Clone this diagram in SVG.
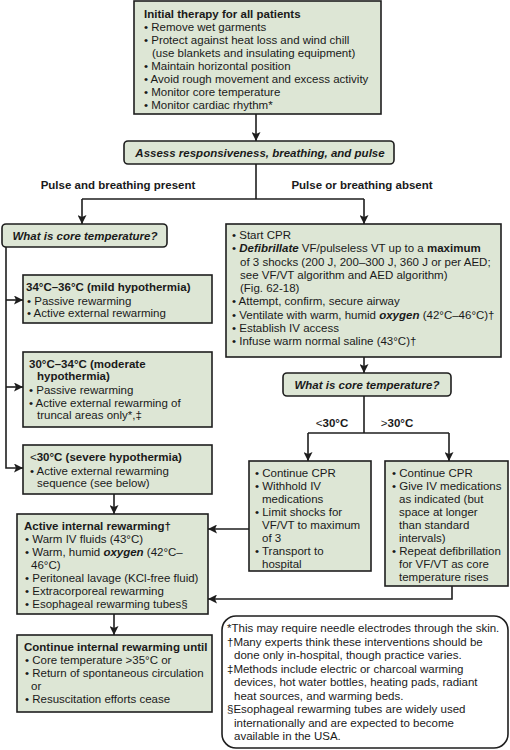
<svg xmlns="http://www.w3.org/2000/svg" width="510" height="750" viewBox="0 0 510 750">
<style>
.box{fill:#dde6d5;stroke:#1e1e1e;stroke-width:1.6}
.note{fill:#ffffff;stroke:#1e1e1e;stroke-width:1.6}
.t{font-family:"Liberation Sans",Arial,sans-serif;font-size:11.5px;fill:#1a1a1a}
.b{font-weight:bold}
.bi{font-weight:bold;font-style:italic}
.n{font-weight:normal}
.c{text-anchor:middle}
.conn{stroke:#1e1e1e;stroke-width:1.6;fill:none}
.arr{marker-end:url(#ah)}
</style>
<defs>
<marker id="ah" markerUnits="userSpaceOnUse" markerWidth="10" markerHeight="9" refX="9" refY="4.5" orient="auto">
<path d="M0,0 L9,4.5 L0,9 L2,4.5 z" fill="#1e1e1e"/>
</marker>
</defs>

<g id="connectors">
<path class="conn arr" d="M256,114 V141"/>
<path class="conn" d="M256,164 V199"/>
<path class="conn" d="M82,199 H364"/>
<path class="conn arr" d="M82,199 V224"/>
<path class="conn arr" d="M364,199 V224"/>
<path class="conn arr" d="M6,247 V468 H23"/>
<path class="conn arr" d="M6,300 H23"/>
<path class="conn arr" d="M6,387 H23"/>
<path class="conn arr" d="M114,494 V514"/>
<path class="conn arr" d="M114,614 V635"/>
<path class="conn arr" d="M364,357 V373"/>
<path class="conn" d="M364,396 V433"/>
<path class="conn" d="M308,433 H449"/>
<path class="conn arr" d="M308,433 V461"/>
<path class="conn arr" d="M449,433 V461"/>
<path class="conn arr" d="M249,529 H208"/>
<path class="conn arr" d="M452,586 V599 H208"/>
<text class="t b c" x="332" y="427"><tspan class="n">&lt;</tspan>30°C</text>
<text class="t b c" x="397" y="427"><tspan class="n">&gt;</tspan>30°C</text>
<text class="t b c" x="118" y="189">Pulse and breathing present</text>
<text class="t b c" x="362" y="189">Pulse or breathing absent</text>
</g>

<g id="initial">
<rect class="box" x="134" y="1" width="247" height="113"/>
<text class="t b" x="144" y="17.5">Initial therapy for all patients</text>
<text class="t" x="144" y="30.5">• Remove wet garments</text>
<text class="t" x="144" y="43.5">• Protect against heat loss and wind chill</text>
<text class="t" x="152" y="56.5">(use blankets and insulating equipment)</text>
<text class="t" x="144" y="69.5">• Maintain horizontal position</text>
<text class="t" x="144" y="82.5">• Avoid rough movement and excess activity</text>
<text class="t" x="144" y="95.5">• Monitor core temperature</text>
<text class="t" x="144" y="108.5">• Monitor cardiac rhythm*</text>
</g>

<g id="assess">
<rect class="box" x="124" y="141" width="270" height="23" rx="4"/>
<text class="t bi c" x="260" y="156.5">Assess responsiveness, breathing, and pulse</text>
</g>

<g id="core-left">
<rect class="box" x="2" y="224" width="165" height="23" rx="4"/>
<text class="t bi c" x="85" y="240">What is core temperature?</text>
</g>

<g id="mild">
<rect class="box" x="23" y="275" width="189" height="48"/>
<text class="t b" x="26" y="291">34°C–36°C (mild hypothermia)</text>
<text class="t" x="27" y="305">• Passive rewarming</text>
<text class="t" x="27" y="317">• Active external rewarming</text>
</g>

<g id="moderate">
<rect class="box" x="23" y="352" width="189" height="75"/>
<text class="t b" x="29" y="368">30°C–34°C (moderate</text>
<text class="t b" x="37" y="380">hypothermia)</text>
<text class="t" x="29" y="394">• Passive rewarming</text>
<text class="t" x="29" y="407">• Active external rewarming of</text>
<text class="t" x="37" y="419">truncal areas only*,‡</text>
</g>

<g id="severe">
<rect class="box" x="23" y="445" width="189" height="49"/>
<text class="t b" x="30" y="461"><tspan class="n">&lt;</tspan>30°C (severe hypothermia)</text>
<text class="t" x="30" y="475">• Active external rewarming</text>
<text class="t" x="37" y="487">sequence (see below)</text>
</g>

<g id="active-internal">
<rect class="box" x="17" y="514" width="191" height="100"/>
<text class="t b" x="24" y="530">Active internal rewarming†</text>
<text class="t" x="25" y="543">• Warm IV fluids (43°C)</text>
<text class="t" x="25" y="556">• Warm, humid <tspan class="bi">oxygen</tspan> (42°C–</text>
<text class="t" x="31" y="569">46°C)</text>
<text class="t" x="25" y="582">• Peritoneal lavage (KCl-free fluid)</text>
<text class="t" x="25" y="595">• Extracorporeal rewarming</text>
<text class="t" x="25" y="608">• Esophageal rewarming tubes§</text>
</g>

<g id="continue">
<rect class="box" x="17" y="635" width="195" height="77"/>
<text class="t b" x="24" y="651">Continue internal rewarming until</text>
<text class="t" x="25" y="664">• Core temperature &gt;35°C or</text>
<text class="t" x="25" y="677">• Return of spontaneous circulation</text>
<text class="t" x="31" y="690">or</text>
<text class="t" x="25" y="703">• Resuscitation efforts cease</text>
</g>

<g id="cpr">
<rect class="box" x="226" y="224" width="275" height="133"/>
<text class="t" x="232" y="239">• Start CPR</text>
<text class="t" x="232" y="252.3">• <tspan class="bi">Defibrillate</tspan> VF/pulseless VT up to a <tspan class="b">maximum</tspan></text>
<text class="t" x="240" y="265.5">of 3 shocks (200 J, 200–300 J, 360 J or per AED;</text>
<text class="t" x="240" y="278.8">see VF/VT algorithm and AED algorithm)</text>
<text class="t" x="240" y="292">(Fig. 62-18)</text>
<text class="t" x="232" y="305.3">• Attempt, confirm, secure airway</text>
<text class="t" x="232" y="318.5">• Ventilate with warm, humid <tspan class="bi">oxygen</tspan> (42°C–46°C)†</text>
<text class="t" x="232" y="331.8">• Establish IV access</text>
<text class="t" x="232" y="345">• Infuse warm normal saline (43°C)†</text>
</g>

<g id="core-right">
<rect class="box" x="283" y="373" width="168" height="23" rx="4"/>
<text class="t bi c" x="367" y="389">What is core temperature?</text>
</g>

<g id="below30">
<rect class="box" x="249" y="461" width="122" height="110"/>
<text class="t" x="255" y="477">• Continue CPR</text>
<text class="t" x="255" y="490">• Withhold IV</text>
<text class="t" x="262" y="503">medications</text>
<text class="t" x="255" y="516">• Limit shocks for</text>
<text class="t" x="262" y="529">VF/VT to maximum</text>
<text class="t" x="262" y="542">of 3</text>
<text class="t" x="255" y="555">• Transport to</text>
<text class="t" x="262" y="568">hospital</text>
</g>

<g id="above30">
<rect class="box" x="385" y="461" width="123" height="125"/>
<text class="t" x="392" y="477">• Continue CPR</text>
<text class="t" x="392" y="490">• Give IV medications</text>
<text class="t" x="399" y="503">as indicated (but</text>
<text class="t" x="399" y="516">space at longer</text>
<text class="t" x="399" y="529">than standard</text>
<text class="t" x="399" y="542">intervals)</text>
<text class="t" x="392" y="555">• Repeat defibrillation</text>
<text class="t" x="399" y="568">for VF/VT as core</text>
<text class="t" x="399" y="581">temperature rises</text>
</g>

<g id="footnotes">
<rect class="note" x="222" y="616" width="286" height="132" rx="14"/>
<text class="t" x="227" y="632">*This may require needle electrodes through the skin.</text>
<text class="t" x="227" y="645.5">†Many experts think these interventions should be</text>
<text class="t" x="234" y="659">done only in-hospital, though practice varies.</text>
<text class="t" x="227" y="672.5">‡Methods include electric or charcoal warming</text>
<text class="t" x="234" y="686">devices, hot water bottles, heating pads, radiant</text>
<text class="t" x="234" y="699.5">heat sources, and warming beds.</text>
<text class="t" x="227" y="713">§Esophageal rewarming tubes are widely used</text>
<text class="t" x="234" y="726.5">internationally and are expected to become</text>
<text class="t" x="234" y="740">available in the USA.</text>
</g>
</svg>
